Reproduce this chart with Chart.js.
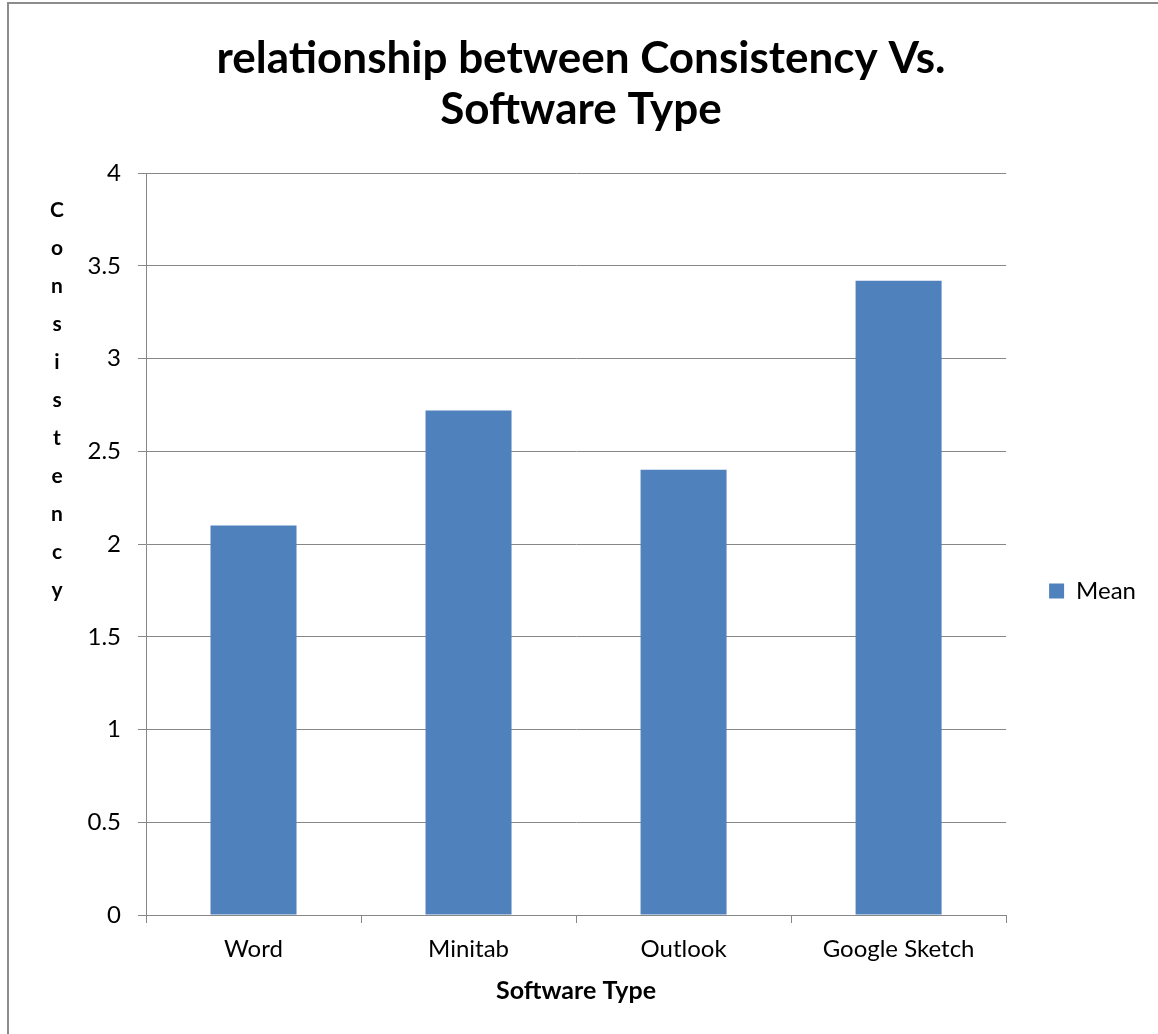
<!DOCTYPE html>
<html>
<head>
<meta charset="utf-8">
<title>Consistency vs Software Type</title>
<script src="https://cdn.jsdelivr.net/npm/chart.js@4.4.1/dist/chart.umd.min.js"></script>
<style>
  html, body { margin: 0; padding: 0; background: #fff; overflow: hidden; }
  /* outer chart frame, only the top and left edges fall inside the window */
  .frame { position: absolute; left: 7px; top: 2px; width: 1300px; height: 1200px;
           border-left: 2px solid #8c8c8c; border-top: 2px solid #8c8c8c; }
  .chart-box { position: absolute; left: 0; top: 0; width: 1158px; height: 1034px; }
</style>
</head>
<body>
<div class="frame"></div>
<div class="chart-box"><canvas id="consistency-chart"></canvas></div>
<script>
// Data
const softwareTypes = ['Word', 'Minitab', 'Outlook', 'Google Sketch'];
const meanValues = [2.1, 2.72, 2.4, 3.42];
const yTickValues = [0, 0.5, 1, 1.5, 2, 2.5, 3, 3.5, 4];
const seriesLabel = 'Mean';
const chartTitle = ['relationship between Consistency Vs.', 'Software Type'];
const yAxisTitle = 'Consistency';
const xAxisTitle = 'Software Type';

const FONT = 'Lato, "Open Sans", sans-serif';
const GRID = '#878787';

// Excel-style y title: one letter per line, not rotated
const stackedYTitle = {
    id: 'stackedYTitle',
    afterDraw(chart) {
        const { ctx, chartArea } = chart;
        ctx.save();
        ctx.font = 'bold 21px ' + FONT;
        ctx.fillStyle = '#000';
        ctx.textAlign = 'center';
        ctx.textBaseline = 'middle';
        yAxisTitle.split('').forEach((ch, i) => {
            ctx.fillText(ch, chartArea.left - 89, chartArea.top + 37 + i * 38);
        });
        ctx.restore();
    }
};

const ctx = document.getElementById('consistency-chart').getContext('2d');
const chart = new Chart(ctx, {
    type: 'bar',
    data: {
        labels: softwareTypes,
        datasets: [{
            label: seriesLabel,
            data: meanValues,
            backgroundColor: '#4F81BD',
            borderWidth: 0,
            categoryPercentage: 0.4,
            barPercentage: 1
        }]
    },
    options: {
        responsive: true,
        maintainAspectRatio: false,
        animation: false,
        layout: { padding: { left: 16, right: 12, top: 0, bottom: 0 } },
        plugins: {
            tooltip: { enabled: false },
            title: {
                display: true,
                text: chartTitle,
                color: '#000',
                font: { family: FONT, size: 44, weight: 'bold', lineHeight: 1.16 },
                padding: { top: 33, bottom: 38 }
            },
            legend: {
                position: 'right',
                // empty legend title only used to push the single item down a bit
                title: { display: true, text: '', font: { size: 10, lineHeight: 1 }, padding: { top: 138, bottom: 0 } },
                labels: {
                    boxWidth: 15,
                    boxHeight: 15,
                    padding: 43,
                    color: '#000',
                    font: { family: FONT, size: 24 }
                }
            }
        },
        scales: {
            x: {
                offset: true,
                afterFit: (scale) => { scale.height = 119; },
                grid: {
                    offset: true,
                    drawOnChartArea: false,
                    drawTicks: true,
                    tickLength: 8,
                    color: GRID
                },
                border: { color: GRID, width: 1 },
                ticks: { color: '#000', padding: 12, font: { family: FONT, size: 24 } },
                title: {
                    display: true,
                    text: xAxisTitle,
                    color: '#000',
                    font: { family: FONT, size: 25, weight: 'bold', lineHeight: 1.2 },
                    padding: { top: 0, bottom: 28 }
                }
            },
            y: {
                min: 0,
                max: 4,
                afterFit: (scale) => { scale.width = 146 - 16; },
                afterBuildTicks: (scale) => {
                    scale.ticks = yTickValues.map(v => ({ value: v }));
                },
                grid: {
                    color: GRID,
                    tickLength: 8,
                    drawTicks: true
                },
                border: { color: GRID, width: 1 },
                ticks: {
                    color: '#000',
                    padding: 17,
                    font: { family: FONT, size: 24 },
                    callback: (v) => String(v)
                }
            }
        }
    },
    plugins: [stackedYTitle]
});
</script>
</body>
</html>
